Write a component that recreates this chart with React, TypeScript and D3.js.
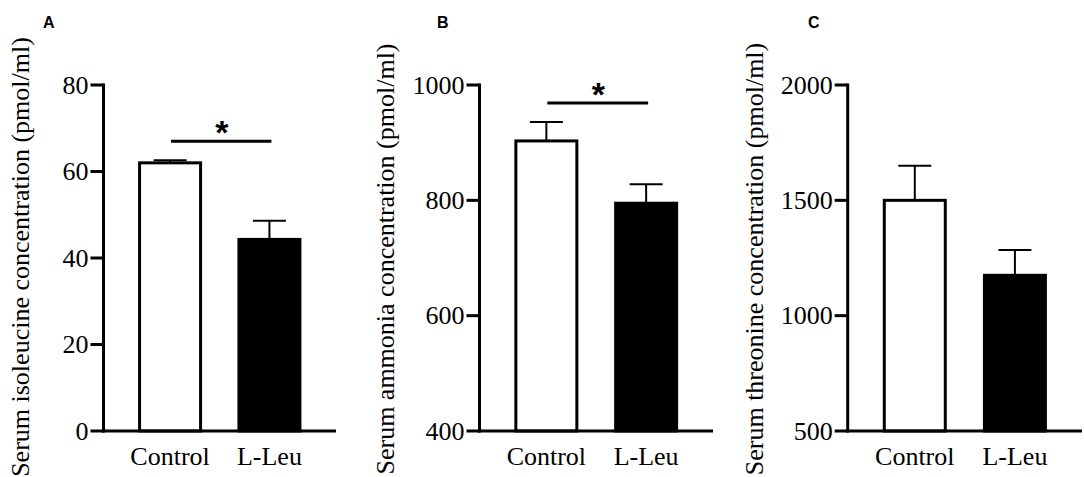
import React from "react";
import * as d3 from "d3";

const categories = ["Control", "L-Leu"];

const isoleucineMean = [62, 44.3];
const isoleucineErr = [0.6, 4.3];
const isoleucineTicks = [0, 20, 40, 60, 80];

const ammoniaMean = [903, 795];
const ammoniaErr = [33, 33];
const ammoniaTicks = [400, 600, 800, 1000];

const threonineMean = [1500, 1175];
const threonineErr = [150, 110];
const threonineTicks = [500, 1000, 1500, 2000];

const panelLetters = ["A", "B", "C"];
const yTitles = [
  "Serum isoleucine concentration (pmol/ml)",
  "Serum ammonia concentration (pmol/ml)",
  "Serum threonine concentration (pmol/ml)",
];
const domains: [number, number][] = [
  [0, 80],
  [400, 1000],
  [500, 2000],
];
const significance: (number | null)[] = [67, 969, null];

const means = [isoleucineMean, ammoniaMean, threonineMean];
const errs = [isoleucineErr, ammoniaErr, threonineErr];
const ticks = [isoleucineTicks, ammoniaTicks, threonineTicks];

// layout
const layout = [
  { axisX: 103.5, axisEnd: 336, titleX: 29, titleY: 257, letterX: 43 },
  { axisX: 479.5, axisEnd: 713, titleX: 394, titleY: 259, letterX: 437 },
  { axisX: 847.7, axisEnd: 1082, titleX: 763, titleY: 259, letterX: 808 },
];
const Y_TOP = 85;
const Y_BOT = 431;
const SERIF = "'Liberation Serif', 'Times New Roman', serif";
const SANS = "'Liberation Sans', Arial, sans-serif";
const FS = 26;

function Panel({ i }: { i: number }) {
  const L = layout[i];
  const y = d3.scaleLinear().domain(domains[i]).range([Y_BOT, Y_TOP]);
  const x = d3
    .scalePoint<string>()
    .domain(categories)
    .range([L.axisX, L.axisEnd])
    .padding(0.67);
  const barW = 61;
  const capW = 33;
  const base = domains[i][0];
  const sig = significance[i];
  return (
    <g>
      <text
        x={L.letterX}
        y={28}
        fontFamily={SANS}
        fontWeight="bold"
        fontSize={16}
      >
        {panelLetters[i]}
      </text>
      <text
        transform={`translate(${L.titleX},${L.titleY}) rotate(-90)`}
        textAnchor="middle"
        fontFamily={SERIF}
        fontSize={FS}
      >
        {yTitles[i]}
      </text>
      {categories.map((c, j) => {
        const cx = x(c)!;
        const top = y(means[i][j]);
        const et = y(means[i][j] + errs[i][j]);
        return (
          <g key={c}>
            <line x1={cx} x2={cx} y1={top} y2={et} stroke="#000" strokeWidth={2} />
            <line
              x1={cx - capW / 2}
              x2={cx + capW / 2}
              y1={et}
              y2={et}
              stroke="#000"
              strokeWidth={2}
            />
            <rect
              x={cx - barW / 2}
              y={top}
              width={barW}
              height={y(base) - top}
              fill={j === 0 ? "#fff" : "#000"}
              stroke="#000"
              strokeWidth={3}
            />
            <text
              x={cx}
              y={465}
              textAnchor="middle"
              fontFamily={SERIF}
              fontSize={FS}
            >
              {c}
            </text>
          </g>
        );
      })}
      {/* axes */}
      <line
        x1={L.axisX}
        x2={L.axisX}
        y1={Y_TOP - 1.5}
        y2={Y_BOT + 1.5}
        stroke="#000"
        strokeWidth={3}
      />
      <line
        x1={L.axisX - 1.5}
        x2={L.axisEnd}
        y1={Y_BOT}
        y2={Y_BOT}
        stroke="#000"
        strokeWidth={3}
      />
      {ticks[i].map((t) => (
        <g key={t}>
          <line
            x1={L.axisX - 13}
            x2={L.axisX}
            y1={y(t)}
            y2={y(t)}
            stroke="#000"
            strokeWidth={3}
          />
          <text
            x={L.axisX - 15}
            y={y(t) + 8.5}
            textAnchor="end"
            fontFamily={SERIF}
            fontSize={FS}
          >
            {t}
          </text>
        </g>
      ))}
      {sig !== null && (
        <g>
          <line
            x1={x(categories[0])! + 1}
            x2={x(categories[1])! + 2}
            y1={y(sig)}
            y2={y(sig)}
            stroke="#000"
            strokeWidth={3}
          />
          <text
            x={(x(categories[0])! + x(categories[1])!) / 2 + 2}
            y={y(sig) + 3}
            textAnchor="middle"
            fontFamily={SANS}
            fontWeight="bold"
            fontSize={34}
          >
            *
          </text>
        </g>
      )}
    </g>
  );
}

export default function App() {
  return (
    <svg
      width={1084}
      height={477}
      style={{ position: "absolute", left: 0, top: 0, background: "#fff" }}
    >
      <rect width={1084} height={477} fill="#fff" />
      {[0, 1, 2].map((i) => (
        <Panel key={i} i={i} />
      ))}
    </svg>
  );
}
